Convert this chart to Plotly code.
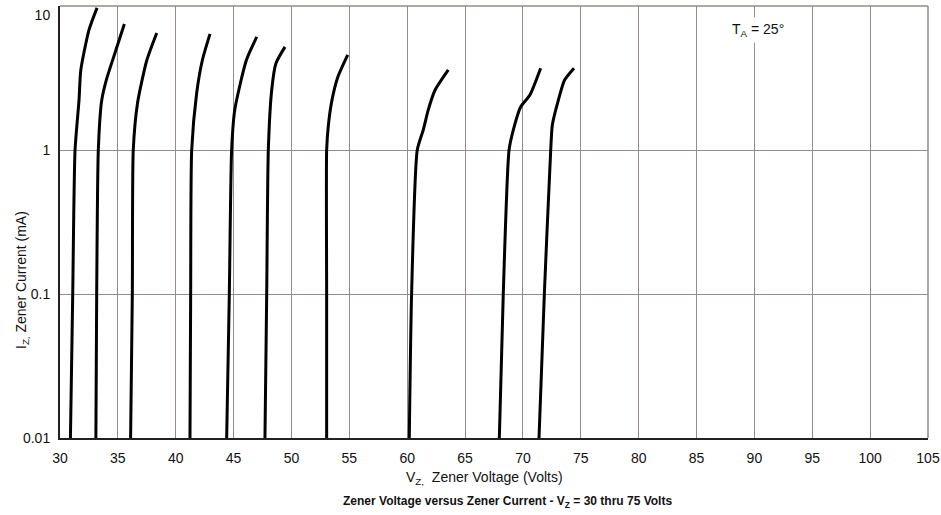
import plotly.graph_objects as go

# Zener voltage (V) / current (mA) pairs, one pair of lists per device
curve_1_v = [30.9, 31.1, 31.3, 31.64, 31.8, 32.5, 33.2]
curve_1_i = [0.01, 0.1, 1.0, 2.2, 3.6, 6.8, 9.7]
curve_2_v = [33.1, 33.17, 33.31, 33.6, 34.0, 34.75, 35.56]
curve_2_i = [0.01, 0.1, 1.0, 2.2, 3.06, 4.72, 7.5]
curve_3_v = [36.1, 36.25, 36.33, 36.7, 37.5, 38.36]
curve_3_i = [0.01, 0.1, 1.0, 2.12, 4.2, 6.5]
curve_4_v = [41.23, 41.29, 41.38, 41.81, 42.3, 42.96]
curve_4_i = [0.01, 0.1, 1.0, 2.49, 4.2, 6.4]
curve_5_v = [44.4, 44.63, 44.83, 45.1, 46.1, 47.0]
curve_5_i = [0.01, 0.1, 1.0, 1.9, 4.2, 6.1]
curve_6_v = [47.71, 47.86, 48.0, 48.29, 48.66, 49.44]
curve_6_i = [0.01, 0.1, 1.0, 2.6, 4.0, 5.2]
curve_7_v = [53.04, 53.04, 53.04, 53.19, 53.5, 54.0, 54.86]
curve_7_i = [0.01, 0.1, 1.0, 1.49, 2.22, 3.2, 4.57]
curve_8_v = [60.18, 60.38, 60.87, 61.39, 61.82, 62.4, 63.55]
curve_8_i = [0.01, 0.1, 1.0, 1.38, 1.9, 2.6, 3.6]
curve_9_v = [67.96, 68.3, 68.8, 69.17, 69.8, 70.6, 71.53]
curve_9_i = [0.01, 0.1, 1.0, 1.38, 1.99, 2.41, 3.7]
curve_10_v = [71.39, 71.85, 72.4, 72.54, 73.06, 73.6, 74.41]
curve_10_i = [0.01, 0.1, 1.0, 1.49, 2.22, 3.06, 3.7]

curves = [
    (curve_1_v, curve_1_i), (curve_2_v, curve_2_i), (curve_3_v, curve_3_i),
    (curve_4_v, curve_4_i), (curve_5_v, curve_5_i), (curve_6_v, curve_6_i),
    (curve_7_v, curve_7_i), (curve_8_v, curve_8_i), (curve_9_v, curve_9_i),
    (curve_10_v, curve_10_i),
]

x_ticks = list(range(30, 106, 5))
x_tick_text = [str(t) for t in x_ticks]
y_ticks = [0.01, 0.1, 1, 10]
# the top label sits just below the frame in the reference
y_tick_text = ["0.01", "0.1", "1", "<br>10"]

GRID = "#968a8a"
FONT = "Liberation Sans, Arial, sans-serif"

fig = go.Figure()
for vz, iz in curves:
    fig.add_trace(go.Scatter(
        x=vz, y=iz, mode="lines",
        line=dict(color="black", width=3, shape="spline", smoothing=0.6),
        showlegend=False, hoverinfo="skip",
    ))

fig.update_xaxes(
    range=[30, 105], tickvals=x_ticks, ticktext=x_tick_text,
    showgrid=True, gridcolor=GRID, gridwidth=1.3,
    showline=True, linecolor="#222222", linewidth=2,
    ticks="", ticklabelstandoff=6, zeroline=False, automargin=False,
    ticklabeloverflow="allow",
    tickfont=dict(family=FONT, size=14, color="#111111"),
)
fig.update_yaxes(
    type="log", range=[-2, 1], tickvals=y_ticks, ticktext=y_tick_text,
    showgrid=True, gridcolor=GRID, gridwidth=1.3,
    showline=True, linecolor="#222222", linewidth=2,
    ticks="", ticklabelstandoff=5, zeroline=False, automargin=False,
    ticklabeloverflow="allow",
    tickfont=dict(family=FONT, size=14, color="#111111"),
)

# top and right frame lines (grey like the grid)
fig.add_shape(type="line", xref="x domain", yref="y domain", x0=0, x1=1, y0=1, y1=1,
              line=dict(color=GRID, width=1.5))
fig.add_shape(type="line", xref="x domain", yref="y domain", x0=1, x1=1, y0=0, y1=1,
              line=dict(color=GRID, width=1.5))

fig.update_layout(
    width=941, height=515,
    margin=dict(l=60, r=13, t=6, b=77),
    paper_bgcolor="white", plot_bgcolor="white",
    font=dict(family=FONT, color="#111111"),
    annotations=[
        dict(text="T<sub>A</sub> = 25°", x=(758 - 60) / 868, y=(438 - 30) / 432,
             xref="paper", yref="paper", xanchor="center", yanchor="middle",
             showarrow=False, bgcolor="white", borderpad=3,
             font=dict(family=FONT, size=14, color="#111111")),
        dict(text="V<sub>Z,</sub>  Zener Voltage (Volts)", x=(484 - 60) / 868,
             y=-(478 - 438) / 432,
             xref="paper", yref="paper", showarrow=False, xanchor="center", yanchor="middle",
             font=dict(family=FONT, size=14, color="#111111")),
        dict(text="<b>Zener Voltage versus Zener Current - V<sub>Z</sub> = 30 thru 75 Volts</b>",
             x=(507 - 60) / 868, y=-(502 - 438) / 432, xref="paper", yref="paper",
             showarrow=False, xanchor="center", yanchor="middle",
             font=dict(family=FONT, size=12, color="#111111")),
        dict(text="I<sub>Z,</sub> Zener Current (mA)", x=(22 - 60) / 868, y=(438 - 280) / 432,
             xref="paper", yref="paper", showarrow=False, textangle=-90,
             xanchor="center", yanchor="middle",
             font=dict(family=FONT, size=14, color="#111111")),
    ],
)

# remove the default 8px page margin so the figure fills the window exactly
fig.write_html("out.html",
               config={"displayModeBar": False},
               post_script="document.body.style.margin='0';document.body.style.overflow='hidden';")
